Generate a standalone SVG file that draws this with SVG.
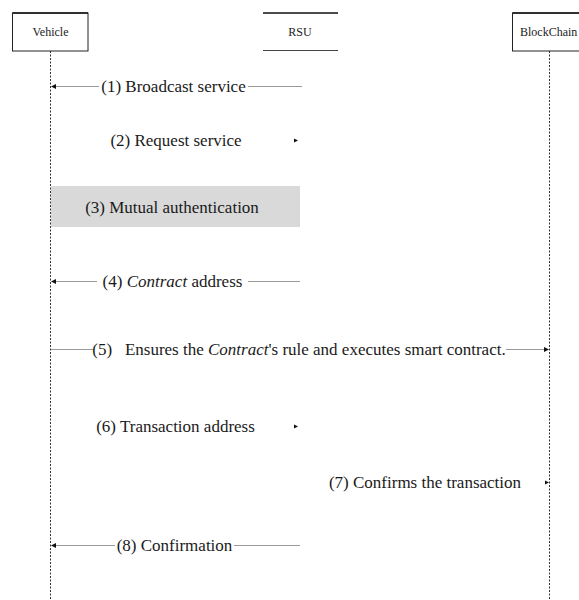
<svg xmlns="http://www.w3.org/2000/svg" width="579" height="600" viewBox="0 0 579 600">
<style>
text{font-family:'Liberation Serif','DejaVu Serif','Times New Roman',Times,serif}
.hdr{font-size:12px;fill:#222;text-anchor:middle}
.lbl{font-size:17px;fill:#1a1a1a;text-anchor:middle}
.box{fill:#fff;stroke:#222;stroke-width:1}
.life{stroke:#333;stroke-width:1;stroke-dasharray:2,1.5;fill:none}
.msg{stroke:#9a9a9a;stroke-width:1;fill:none}
.ah{fill:#111}
</style>
<rect width="579" height="600" fill="#fff"/>
<g id="lifelines">
<line class="life" x1="50.5" y1="51" x2="50.5" y2="600"/>
<line class="life" x1="549.5" y1="51" x2="549.5" y2="600"/>
</g>
<g id="vehicle">
<rect class="box" x="12.5" y="13" width="75.5" height="38"/>
<line x1="12.5" y1="13" x2="88" y2="13" stroke="#111" stroke-width="1.5"/>
<text class="hdr" x="50.5" y="36" font-family="Liberation Serif, DejaVu Serif, serif">Vehicle</text>
</g>
<g id="rsu">
<line x1="263" y1="13" x2="338" y2="13" stroke="#111" stroke-width="1.5"/>
<line x1="263" y1="50.5" x2="338" y2="50.5" stroke="#444" stroke-width="1"/>
<text class="hdr" x="300" y="36" font-family="Liberation Serif, DejaVu Serif, serif">RSU</text>
</g>
<g id="blockchain">
<rect class="box" x="512.5" y="13" width="80" height="38"/>
<line x1="512.5" y1="13" x2="579" y2="13" stroke="#111" stroke-width="1.5"/>
<text class="hdr" x="520" y="36" style="text-anchor:start" font-family="Liberation Serif, DejaVu Serif, serif">BlockChain</text>
</g>
<g id="auth">
<rect x="51" y="186" width="249" height="41" fill="#d9d9d9"/>
<text class="lbl" x="172" y="213" font-family="Liberation Serif, DejaVu Serif, serif">(3) Mutual authentication</text>
</g>
<g id="connectors">
<line class="msg" x1="53" y1="86.5" x2="99" y2="86.5"/>
<line class="msg" x1="248" y1="86.5" x2="302" y2="86.5"/>
<polygon class="ah" points="51,86.5 56,84 56,89"/>
<polygon class="ah" points="298,140.5 294,138.5 294,142.5"/>
<line class="msg" x1="53" y1="281.5" x2="97" y2="281.5"/>
<line class="msg" x1="248" y1="281.5" x2="300" y2="281.5"/>
<polygon class="ah" points="51,281.5 56,279 56,284"/>
<line class="msg" x1="51" y1="349.5" x2="93" y2="349.5"/>
<line class="msg" x1="506" y1="349.5" x2="546" y2="349.5"/>
<polygon class="ah" points="549,349.5 544,347 544,352"/>
<polygon class="ah" points="298,426.5 294,424.5 294,428.5"/>
<polygon class="ah" points="549,482.5 545,480.5 545,484.5"/>
<line class="msg" x1="53" y1="545.5" x2="115" y2="545.5"/>
<line class="msg" x1="234" y1="545.5" x2="300" y2="545.5"/>
<polygon class="ah" points="51,545.5 56,543 56,548"/>
</g>
<g id="labels" font-family="Liberation Serif, DejaVu Serif, serif">
<text class="lbl" x="173.5" y="92">(1) Broadcast service</text>
<text class="lbl" x="176" y="146">(2) Request service</text>
<text class="lbl" x="172.5" y="287">(4) <tspan font-style="italic">Contract</tspan> address</text>
<text class="lbl" x="299" y="355">(5)&#160;&#160; Ensures the <tspan font-style="italic">Contract</tspan>'s rule and executes smart contract.</text>
<text class="lbl" x="175.5" y="432">(6) Transaction address</text>
<text class="lbl" x="425" y="488">(7) Confirms the transaction</text>
<text class="lbl" x="174.5" y="551">(8) Confirmation</text>
</g>
</svg>
